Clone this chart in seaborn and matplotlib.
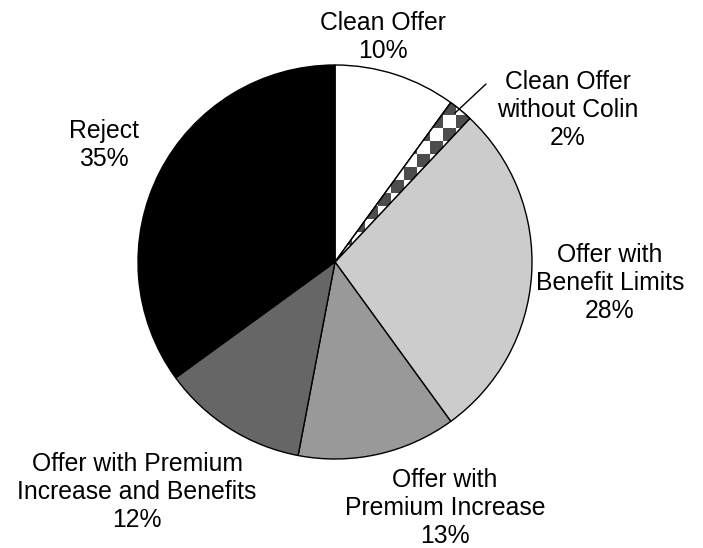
import numpy as np
import matplotlib
matplotlib.use("Agg")
import matplotlib.pyplot as plt
from matplotlib.patches import Wedge
from matplotlib.colors import ListedColormap
import seaborn as sns

categories = ["Clean Offer", "Clean Offer\nwithout Colin", "Offer with\nBenefit Limits",
              "Offer with\nPremium Increase", "Offer with Premium\nIncrease and Benefits", "Reject"]
values = [10, 2, 28, 13, 12, 35]
pct_labels = ["10%", "2%", "28%", "13%", "12%", "35%"]
colors = ["#ffffff", "#ffffff", "#cccccc", "#999999", "#666666", "#000000"]

sns.set_theme(style="white")
plt.rcParams["font.family"] = ["Liberation Sans", "DejaVu Sans"]

W, H = 703, 548
fig = plt.figure(figsize=(W / 100, H / 100), dpi=100)
ax = fig.add_axes([0, 0, 1, 1])

cx, cy, r = 335, H - 262, 197
wedges, _ = ax.pie(values, colors=colors, startangle=90, counterclock=False,
                   center=(cx, cy), radius=r, frame=True,
                   wedgeprops=dict(edgecolor="black", linewidth=1.0))

# checkerboard fill for the "without Colin" slice
cell = 13
n = 40
yy, xx = np.mgrid[0:n, 0:n]
board = ((xx + yy) % 2).astype(float)
cmap = ListedColormap(["#ffffff", "#4d4d4d"])
im = ax.imshow(board, cmap=cmap, interpolation="nearest",
               extent=(cx - 100, cx - 100 + n * cell, cy - 100, cy - 100 + n * cell),
               origin="lower", zorder=wedges[1].get_zorder() + 0.1)
im.set_clip_path(wedges[1])
outline = Wedge((cx, cy), r, wedges[1].theta1, wedges[1].theta2,
                fill=False, edgecolor="black", linewidth=1.0,
                zorder=im.get_zorder() + 0.1)
ax.add_patch(outline)

ax.set_xlim(0, W)
ax.set_ylim(0, H)
ax.set_aspect("equal")
ax.axis("off")

label_pos = [(383, 37), (568, 110), (610, 283), (445, 508), (137, 492), (104, 145)]
fs = 17.8
for cat, pct, (lx, ly) in zip(categories, pct_labels, label_pos):
    ax.text(lx, H - ly, cat + "\n" + pct, ha="center", va="center",
            fontsize=fs, linespacing=1.22, color="black")

ax.plot([455, 486], [H - 113, H - 84], color="black", linewidth=1.0)

fig.savefig("out.png", dpi=100)
